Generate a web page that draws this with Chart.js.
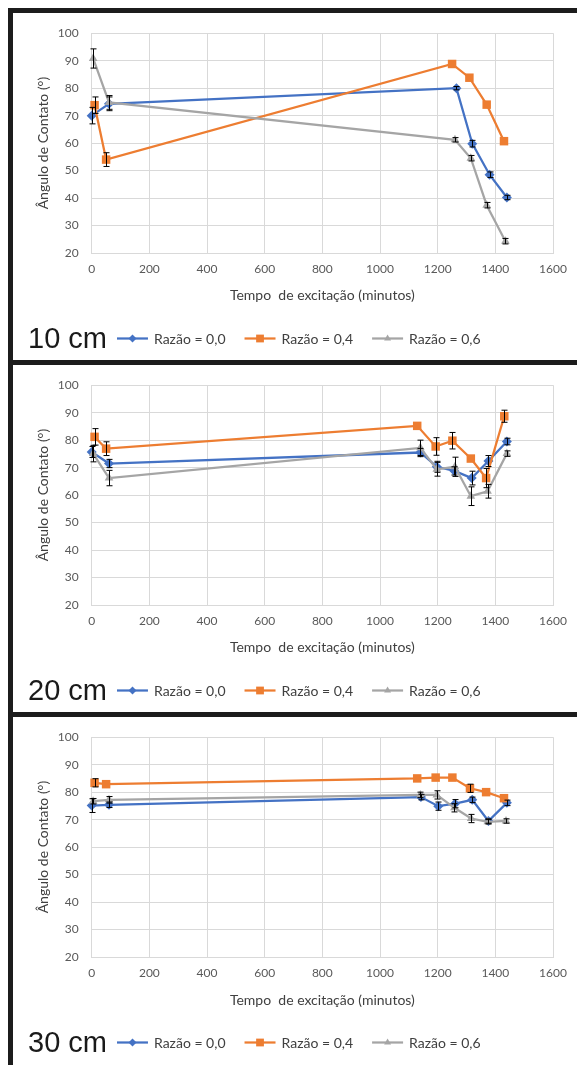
<!DOCTYPE html>
<html>
<head>
<meta charset="utf-8">
<script src="https://cdn.jsdelivr.net/npm/chart.js@4.4.1/dist/chart.umd.min.js"></script>
<style>
  body { margin: 0; background: #fff; width: 577px; height: 1065px; overflow: hidden; position: relative; }
  .bar { position: absolute; background: #1c1c1c; }
  .panel { position: absolute; left: 13px; width: 564px; }
</style>
</head>
<body>
<div class="bar" style="left:8px;top:8px;width:5px;height:1057px"></div>
<div class="bar" style="left:8px;top:8px;width:569px;height:5px"></div>
<div class="bar" style="left:8px;top:360px;width:569px;height:5px"></div>
<div class="bar" style="left:8px;top:712px;width:569px;height:5px"></div>
<div class="panel" style="top:13px;height:347px"><canvas id="c10"></canvas></div>
<div class="panel" style="top:365px;height:347px"><canvas id="c20"></canvas></div>
<div class="panel" style="top:717px;height:348px"><canvas id="c30"></canvas></div>

<script>
// --- dados ---
const SERIES_LABELS = ['Razão = 0,0', 'Razão = 0,4', 'Razão = 0,6'];
const PANEL_LABELS = ['10 cm', '20 cm', '30 cm'];
const X_TITLE = 'Tempo  de excitação (minutos)';
const Y_TITLE = 'Ângulo de Contato (°)';
const X_MIN = 0, X_MAX = 1600, X_STEP = 200;
const Y_MIN = 20, Y_MAX = 100, Y_STEP = 10;

// 10 cm
const t10a = [0, 60, 1265, 1320, 1380, 1440];
const v10a = [70, 74.3, 80, 59.8, 48.5, 40.2];
const e10a = [3, 2.5, 0.6, 1.2, 1, 0.8];
const t10b = [10, 50, 1250, 1310, 1370, 1430];
const v10b = [73.8, 54, 88.8, 83.8, 74, 60.7];
const e10b = [3, 2.5, 0, 0, 0, 0];
const t10c = [5, 60, 1260, 1315, 1370, 1435];
const v10c = [90.8, 74.8, 61.2, 54.5, 37.4, 24.3];
const e10c = [3.5, 2.5, 0.8, 1, 1, 1];

// 20 cm
const t20a = [0, 60, 1140, 1197, 1258, 1318, 1376, 1440];
const v20a = [75.7, 71.5, 75.5, 70.3, 68.8, 66.2, 72.4, 79.5];
const e20a = [2, 1.5, 1.5, 2, 1.5, 2.5, 2, 1.2];
const t20b = [10, 50, 1129, 1193, 1251, 1315, 1368, 1431];
const v20b = [81.2, 76.9, 85.2, 77.7, 79.8, 73.3, 66.2, 88.7];
const e20b = [3, 2.5, 0, 3.2, 3, 0, 3.5, 2.2];
const t20c = [5, 60, 1140, 1197, 1260, 1315, 1373, 1440];
const v20c = [75.1, 66.2, 77.2, 69.4, 70.3, 59.6, 61.4, 75.1];
const e20c = [3, 2.8, 2.8, 2.5, 3.5, 3.4, 2.5, 1];

// 30 cm
const t30a = [0, 60, 1142, 1202, 1260, 1320, 1376, 1440];
const v30a = [75.1, 75.4, 78.2, 74.9, 75.8, 77.2, 69.5, 76.1];
const e30a = [2.5, 1, 1, 1.5, 1.5, 1, 0.8, 1];
const t30b = [10, 50, 1129, 1193, 1251, 1312, 1368, 1430];
const v30b = [83.4, 82.9, 85, 85.3, 85.3, 81.4, 80, 77.8];
const e30b = [1.5, 0, 0, 0, 0, 1.5, 0, 0];
const t30c = [5, 60, 1140, 1197, 1258, 1316, 1374, 1437];
const v30c = [76.7, 77.2, 79, 79, 74.3, 70.4, 69.2, 69.5];
const e30c = [1, 1.2, 1, 1.5, 1.5, 1.5, 0.8, 0.8];

// --- estilo ---
const COLORS = ['#4472C4', '#ED7D31', '#A5A5A5'];
const MARKERS = ['rectRot', 'rect', 'triangle'];
const RADII = [5, 6, 5];
const GRID = '#d9d9d9';
const FONT = 'Lato';

// barras de erro
const errorBars = {
    id: 'errorBars',
    afterDatasetsDraw(chart) {
        const ctx = chart.ctx;
        const ys = chart.scales.y;
        ctx.save();
        ctx.strokeStyle = '#000';
        ctx.lineWidth = 1;
        chart.data.datasets.forEach((ds, i) => {
            const meta = chart.getDatasetMeta(i);
            meta.data.forEach((pt, j) => {
                const e = ds.errors[j];
                if (!e) return;
                const x = Math.round(pt.x) + 0.5;
                const y1 = ys.getPixelForValue(ds.data[j].y + e);
                const y2 = ys.getPixelForValue(ds.data[j].y - e);
                ctx.beginPath();
                ctx.moveTo(x, y1); ctx.lineTo(x, y2);
                ctx.moveTo(x - 3, y1); ctx.lineTo(x + 3, y1);
                ctx.moveTo(x - 3, y2); ctx.lineTo(x + 3, y2);
                ctx.stroke();
            });
        });
        ctx.restore();
    }
};

function drawMarker(ctx, style, x, y, r) {
    ctx.beginPath();
    if (style === 'rect') {
        const s = r * Math.SQRT1_2;
        ctx.rect(x - s, y - s, 2 * s, 2 * s);
    } else if (style === 'rectRot') {
        ctx.moveTo(x, y - r); ctx.lineTo(x + r, y); ctx.lineTo(x, y + r); ctx.lineTo(x - r, y);
        ctx.closePath();
    } else {
        ctx.moveTo(x, y - r); ctx.lineTo(x + r * 0.87, y + r * 0.5); ctx.lineTo(x - r * 0.87, y + r * 0.5);
        ctx.closePath();
    }
    ctx.fill();
}

// legenda com rótulo do painel
const panelLegend = {
    id: 'panelLegend',
    afterDraw(chart, args, opts) {
        const ctx = chart.ctx;
        ctx.save();
        ctx.fillStyle = '#1a1a1a';
        ctx.font = '29px "Liberation Sans", Arial, sans-serif';
        ctx.textBaseline = 'alphabetic';
        ctx.fillText(opts.label, 15, 335);
        let x = 15 + ctx.measureText(opts.label).width + 10;
        const y = 325.5;
        ctx.font = '14px ' + FONT;
        ctx.textBaseline = 'middle';
        chart.data.datasets.forEach((ds, i) => {
            ctx.strokeStyle = ds.borderColor;
            ctx.lineWidth = 2.25;
            ctx.beginPath(); ctx.moveTo(x, y); ctx.lineTo(x + 31, y); ctx.stroke();
            ctx.fillStyle = ds.backgroundColor;
            drawMarker(ctx, ds.pointStyle, x + 15.5, y, i === 1 ? 5.5 : 4);
            ctx.fillStyle = '#404040';
            ctx.fillText(ds.label, x + 37, y + 1);
            x += 37 + ctx.measureText(ds.label).width + 19;
        });
        ctx.restore();
    }
};

function makePanel(id, label, series) {
    const datasets = series.map((s, i) => ({
        label: SERIES_LABELS[i],
        data: s[0].map((t, j) => ({ x: t, y: s[1][j] })),
        errors: s[2],
        showLine: true,
        borderColor: COLORS[i],
        backgroundColor: COLORS[i],
        borderWidth: 2.25,
        pointStyle: MARKERS[i],
        pointRadius: RADII[i],
        pointBorderWidth: 0,
        order: 2 - i,
        clip: false
    }));

    new Chart(document.getElementById(id), {
        type: 'scatter',
        data: { datasets },
        options: {
            responsive: true,
            maintainAspectRatio: false,
            animation: false,
            layout: { padding: { top: 15, right: 24, bottom: 50, left: 0 } },
            plugins: {
                legend: { display: false },
                tooltip: { enabled: false },
                panelLegend: { label }
            },
            scales: {
                x: {
                    type: 'linear', min: X_MIN, max: X_MAX,
                    ticks: { stepSize: X_STEP, color: '#595959', font: { size: 12, family: FONT }, padding: 9, callback: v => String(v) },
                    grid: { color: GRID, drawTicks: false },
                    border: { color: GRID },
                    title: { display: true, text: X_TITLE, color: '#404040', font: { size: 14, family: FONT }, padding: { top: 0, bottom: 6 } },
                    afterFit: s => { s.height = s.chart.height - 50 - 240; }
                },
                y: {
                    min: Y_MIN, max: Y_MAX,
                    ticks: { stepSize: Y_STEP, color: '#595959', font: { size: 12, family: FONT }, padding: 13, callback: v => String(v) },
                    grid: { color: GRID, drawTicks: false },
                    border: { color: GRID },
                    title: { display: true, text: Y_TITLE, color: '#404040', font: { size: 14, family: FONT }, padding: { top: 22, bottom: 0 } },
                    afterFit: s => { s.width = 78.7; }
                }
            }
        },
        plugins: [errorBars, panelLegend]
    });
}

function build() {
    makePanel('c10', PANEL_LABELS[0], [[t10a, v10a, e10a], [t10b, v10b, e10b], [t10c, v10c, e10c]]);
    makePanel('c20', PANEL_LABELS[1], [[t20a, v20a, e20a], [t20b, v20b, e20b], [t20c, v20c, e20c]]);
    makePanel('c30', PANEL_LABELS[2], [[t30a, v30a, e30a], [t30b, v30b, e30b], [t30c, v30c, e30c]]);
}

Promise.all([
    document.fonts.load('14px Lato'),
    document.fonts.load('29px "Liberation Sans"')
]).then(build, build);
</script>
</body>
</html>
